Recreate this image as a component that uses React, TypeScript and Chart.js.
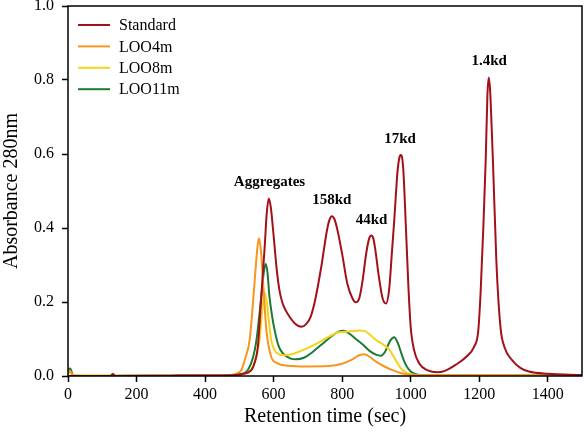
import React, { useEffect, useRef } from "react";
import { Chart, registerables } from "chart.js";

Chart.register(...registerables);

// ---- data ----
const seriesNames = ["Standard", "LOO4m", "LOO8m", "LOO11m"];
const seriesColors = ["#A3101A", "#F7961E", "#F6D21A", "#1C7A32"];

const timeStd = [0, 125, 131, 137, 300, 480, 510, 535, 546, 554, 564, 574, 580, 586, 592, 598, 603, 610, 617, 625, 635, 648, 662, 681, 695, 708, 720, 740, 755, 763, 770, 777, 785, 800, 815, 830, 840, 850, 860, 870, 879, 885, 891, 897, 907, 918, 928, 937, 945, 952, 962, 967, 971, 975, 979, 986, 993, 1000, 1010, 1025, 1050, 1078, 1100, 1131, 1160, 1185, 1197, 1204, 1212, 1219, 1224, 1228, 1232, 1236, 1240, 1250, 1262, 1275, 1296, 1320, 1345, 1400, 1500];
const absStd = [0, 0, 0.006, 0, 0.001, 0.002, 0.006, 0.016, 0.04, 0.079, 0.214, 0.349, 0.44, 0.48, 0.455, 0.4, 0.349, 0.28, 0.232, 0.2, 0.178, 0.158, 0.142, 0.133, 0.14, 0.16, 0.2, 0.3, 0.39, 0.422, 0.432, 0.425, 0.4, 0.33, 0.25, 0.21, 0.199, 0.21, 0.26, 0.33, 0.372, 0.38, 0.372, 0.34, 0.27, 0.21, 0.196, 0.232, 0.33, 0.42, 0.557, 0.59, 0.597, 0.59, 0.55, 0.404, 0.25, 0.133, 0.07, 0.034, 0.015, 0.01, 0.014, 0.03, 0.05, 0.079, 0.12, 0.223, 0.4, 0.584, 0.76, 0.807, 0.77, 0.68, 0.584, 0.313, 0.133, 0.075, 0.043, 0.022, 0.012, 0.006, 0.003];

const time4m = [0, 5, 12, 20, 40, 300, 450, 477, 495, 506, 518, 530, 545, 552, 557, 563, 569, 579, 593, 610, 640, 700, 760, 800, 830, 850, 865, 880, 900, 925, 947, 975, 1010, 1500];
const abs4m = [0.005, 0.015, 0.005, 0, 0, 0.001, 0.002, 0.003, 0.008, 0.016, 0.05, 0.097, 0.259, 0.34, 0.372, 0.34, 0.259, 0.124, 0.052, 0.035, 0.028, 0.026, 0.027, 0.033, 0.045, 0.056, 0.059, 0.052, 0.038, 0.025, 0.016, 0.007, 0.003, 0.001];

const time8m = [0, 5, 12, 300, 480, 510, 535, 550, 559, 566, 574, 580, 586, 593, 603, 613, 630, 650, 680, 714, 750, 790, 820, 850, 865, 880, 895, 915, 937, 955, 971, 990, 1020, 1500];
const abs8m = [0.005, 0.012, 0.003, 0.001, 0.002, 0.005, 0.016, 0.055, 0.097, 0.17, 0.225, 0.2, 0.15, 0.097, 0.07, 0.06, 0.056, 0.058, 0.068, 0.082, 0.1, 0.118, 0.12, 0.123, 0.122, 0.113, 0.1, 0.088, 0.072, 0.045, 0.021, 0.008, 0.003, 0.001];

const time11m = [0, 4, 8, 14, 40, 300, 480, 510, 525, 540, 550, 564, 572, 577, 582, 588, 596, 603, 615, 627, 650, 665, 690, 714, 740, 770, 790, 804, 820, 840, 860, 880, 900, 913, 925, 940, 952, 962, 975, 986, 1000, 1015, 1050, 1500];
const abs11m = [0.008, 0.02, 0.018, 0.003, 0, 0.001, 0.002, 0.006, 0.016, 0.05, 0.097, 0.214, 0.285, 0.303, 0.28, 0.214, 0.16, 0.124, 0.08, 0.061, 0.047, 0.045, 0.05, 0.065, 0.085, 0.108, 0.12, 0.122, 0.115, 0.1, 0.085, 0.068, 0.057, 0.055, 0.065, 0.095, 0.105, 0.09, 0.055, 0.03, 0.012, 0.005, 0.002, 0.002];

const xTicks = [0, 200, 400, 600, 800, 1000, 1200, 1400];
const yTicks = [0, 0.2, 0.4, 0.6, 0.8, 1.0];

const peakLabels = ["Aggregates", "158kd", "44kd", "17kd", "1.4kd"];
const peakLabelX = [588, 770, 886, 969, 1229];
const peakLabelY = [0.524, 0.476, 0.422, 0.64, 0.851];

const FONT = '"Liberation Serif", "Times New Roman", Times, serif';

const frameAndText = {
  id: "frameAndText",
  afterDatasetsDraw(chart: any) {
    const { ctx, chartArea, scales } = chart;
    ctx.save();
    ctx.strokeStyle = "#000";
    ctx.lineWidth = 1.5;
    ctx.strokeRect(chartArea.left, chartArea.top, chartArea.right - chartArea.left, chartArea.bottom - chartArea.top);
    ctx.fillStyle = "#000";
    ctx.font = `bold 15px ${FONT}`;
    ctx.textAlign = "center";
    ctx.textBaseline = "middle";
    peakLabels.forEach((t, i) => {
      ctx.fillText(t, scales.x.getPixelForValue(peakLabelX[i]), scales.y.getPixelForValue(peakLabelY[i]));
    });
    ctx.font = `16px ${FONT}`;
    ctx.textAlign = "left";
    chart.data.datasets.forEach((ds: any, i: number) => {
      const y = chartArea.top + 19 + i * 21.4;
      const x0 = chartArea.left + 10;
      ctx.strokeStyle = ds.borderColor;
      ctx.lineWidth = 2;
      ctx.beginPath();
      ctx.moveTo(x0, y);
      ctx.lineTo(x0 + 32, y);
      ctx.stroke();
      ctx.fillStyle = "#000";
      ctx.fillText(ds.label, x0 + 41, y + 1);
    });
    ctx.restore();
  },
};

export default function App() {
  const ref = useRef<HTMLCanvasElement | null>(null);
  useEffect(() => {
    if (!ref.current) return;
    const mk = (xs: number[], ys: number[]) => xs.map((x, i) => ({ x, y: ys[i] }));
    const allX = [timeStd, time4m, time8m, time11m];
    const allY = [absStd, abs4m, abs8m, abs11m];
    const chart = new Chart(ref.current, {
      type: "line",
      data: {
        datasets: seriesNames.map((name, i) => ({
          label: name,
          data: mk(allX[i], allY[i]),
          borderColor: seriesColors[i],
          backgroundColor: seriesColors[i],
          borderWidth: 2,
          pointRadius: 0,
          cubicInterpolationMode: "monotone" as const,
          fill: false,
          order: i,
        })),
      },
      options: {
        animation: false,
        responsive: false,
        layout: { autoPadding: false, padding: { top: 6, right: 2, left: 0, bottom: 0 } },
        plugins: { legend: { display: false }, tooltip: { enabled: false } },
        scales: {
          x: {
            type: "linear",
            min: 0,
            max: 1500,
            afterBuildTicks: (s: any) => { s.ticks = xTicks.map((v) => ({ value: v })); },
            afterFit: (s: any) => { s.height = 63; s.paddingLeft = 0; s.paddingRight = 0; s.paddingTop = 0; s.paddingBottom = 0; },
            ticks: { autoSkip: false, maxRotation: 0, color: "#000", font: { family: FONT, size: 16 }, padding: 3, callback: (v: any) => String(v) },
            grid: { display: true, drawOnChartArea: false, drawTicks: true, tickLength: 6, tickWidth: 1.5, color: "#000" },
            border: { display: false },
            title: { display: true, text: "Retention time (sec)", color: "#000", font: { family: FONT, size: 20 }, padding: { top: 0, bottom: 10 } },
          },
          y: {
            type: "linear",
            min: 0,
            max: 1,
            afterBuildTicks: (s: any) => { s.ticks = yTicks.map((v) => ({ value: v })); },
            afterFit: (s: any) => { s.width = 68; s.paddingTop = 0; s.paddingBottom = 0; s.paddingLeft = 0; s.paddingRight = 0; },
            ticks: { color: "#000", font: { family: FONT, size: 16 }, padding: 8, callback: (v: any) => Number(v).toFixed(1) },
            grid: { display: true, drawOnChartArea: false, drawTicks: true, tickLength: 6, tickWidth: 1.5, color: "#000" },
            border: { display: false },
            title: { display: true, text: "Absorbance 280nm", color: "#000", font: { family: FONT, size: 20 }, padding: { top: 0, bottom: 0 } },
          },
        },
      },
      plugins: [frameAndText],
    } as any);
    return () => chart.destroy();
  }, []);
  return (
    <div style={{ position: "absolute", left: 0, top: 0, width: 584, height: 439, background: "#fff" }}>
      <canvas ref={ref} width={584} height={439} style={{ display: "block", width: 584, height: 439 }} />
    </div>
  );
}
